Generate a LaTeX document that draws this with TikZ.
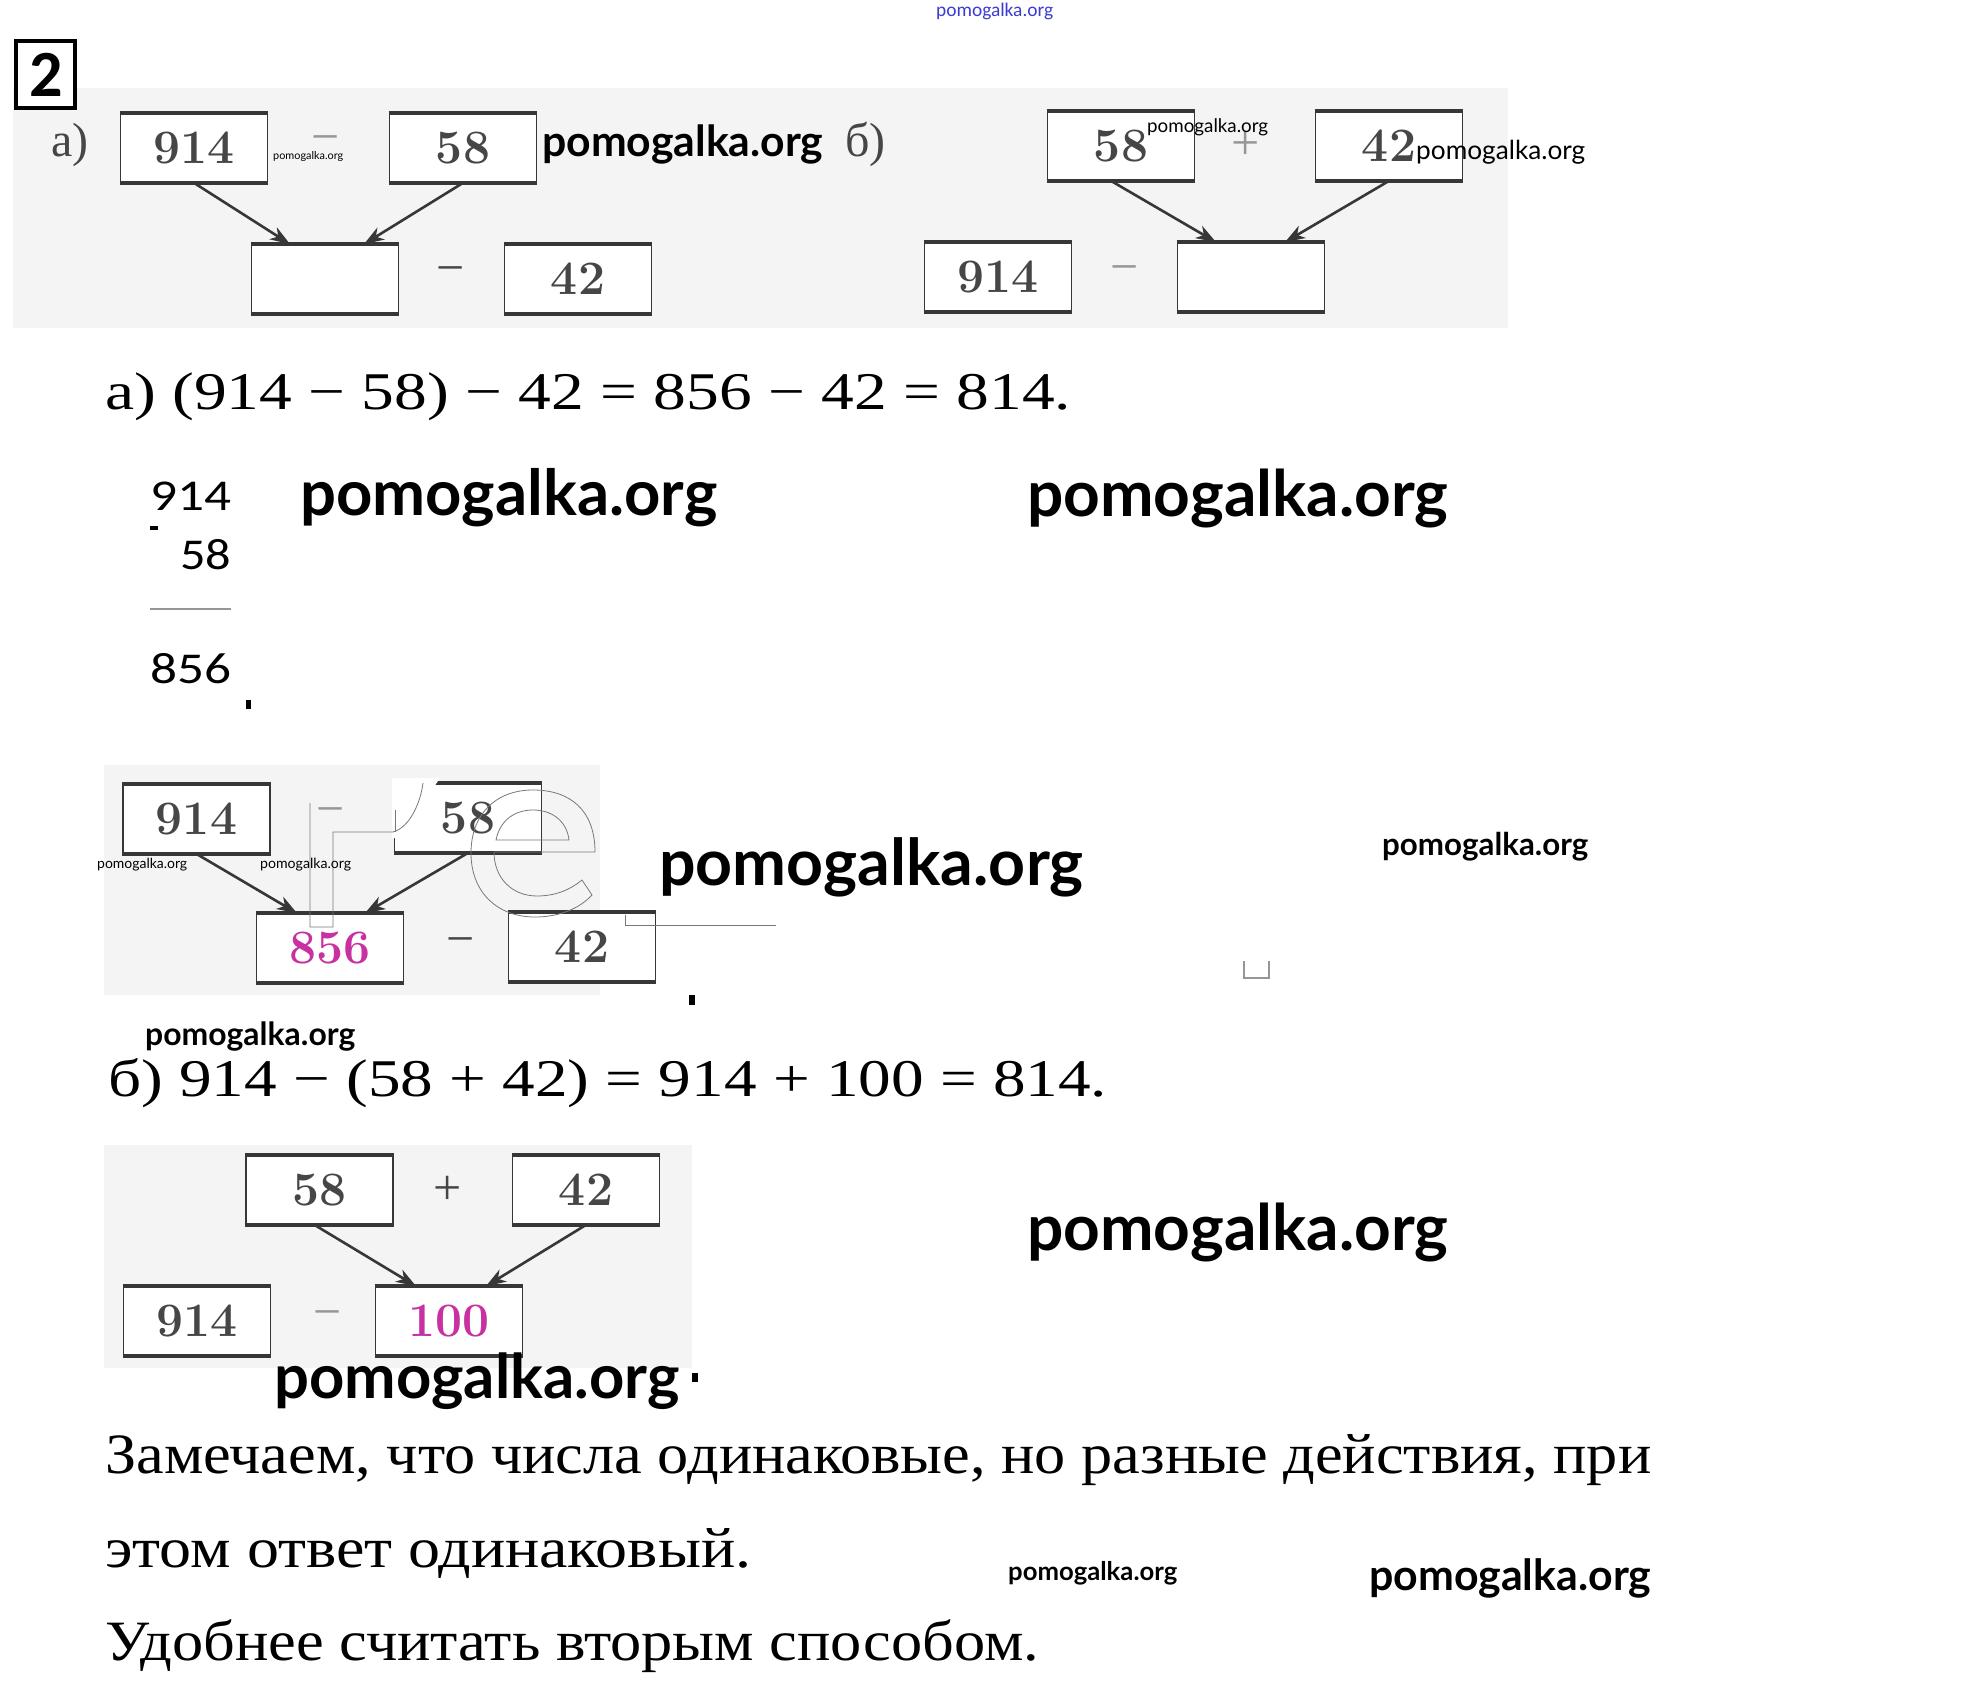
\documentclass[tikz,border=0pt]{standalone}
\usepackage{fontspec}
\usepackage{graphicx}
\usetikzlibrary{arrows.meta}
\newfontfamily\txtf{Liberation Serif}
\newfontfamily\wmf{Lato}
\newfontfamily\clb{Carlito}
\newfontfamily\boxf{Latin Modern Roman}
\definecolor{bgc}{RGB}{244,244,244}
\definecolor{boxc}{RGB}{55,55,55}
\definecolor{numc}{RGB}{70,70,70}
\definecolor{mag}{RGB}{200,50,160}
\definecolor{lgray}{RGB}{150,150,150}
\definecolor{blu}{RGB}{60,60,210}
\definecolor{logoc}{RGB}{120,120,120}
\newcommand\fitx[2]{\resizebox{#1}{\height}{#2}}
\newcommand\fitu[2]{\resizebox{#1}{!}{#2}}
\newcommand\tbedges[1]{\draw[tedge] (#1.north west)--(#1.north east); \draw[tedge] (#1.south west)--(#1.south east);}
\begin{document}
\begin{tikzpicture}[x=1pt,y=-1pt,
 tb/.style={draw=boxc,fill=white,line width=1.8pt,minimum width=147pt,minimum height=68pt,inner sep=0pt,font=\boxf\bfseries\fontsize{48}{48}\selectfont,text=numc},
 tedge/.style={draw=boxc,line width=4pt},
 arr/.style={draw=boxc,line width=2.6pt,-{Stealth[length=20pt,width=14pt,inset=6pt]}},
 opf/.style={font=\txtf\fontsize{50}{50}\selectfont,text=numc,inner sep=0pt},
 txt/.style={anchor=base west,inner sep=0pt},
 logo/.style={draw=logoc,line width=0.8pt}
]
\useasboundingbox (0,0) rectangle (1987,1699);
\fill[white] (0,0) rectangle (1987,1699);

% ---------- top
\fill[bgc] (13,88) rectangle (1508,328);
\node[txt] (wt) at (936,17) {\fitu{117pt}{\clb\color{blu}pomogalka.org}};
\node[draw=black,fill=white,line width=3.5pt,minimum width=59pt,minimum height=67pt,inner sep=0pt] (num) at (45.5,74.5) {};
\node[txt,font=\clb\bfseries\fontsize{66}{66}\selectfont] (numt) at (29,97) {2};

\node[txt,font=\txtf\fontsize{48}{48}\selectfont,text=numc] (la) at (51,157) {а)};
\node[txt,font=\txtf\fontsize{48}{48}\selectfont,text=numc] (lb) at (845,157) {б)};

% a)
\node[tb] (A1) at (194,148) {914};
\node[tb] (A2) at (463,148) {58};
\node[tb] (B1) at (325,279) {};
\node[tb] (B2) at (578,279) {42};
\tbedges{A1}\tbedges{A2}\tbedges{B1}\tbedges{B2}
\node[opf,text=lgray] (am1) at (326,145) {−};
\node[opf] (am2) at (451,276) {−};
\draw[arr] (A1.south) -- ([xshift=-35pt]B1.north);
\draw[arr] (A2.south) -- ([xshift=39pt]B1.north);
\node[txt] (w1) at (273,160) {\fitu{70pt}{\wmf pomogalka.org}};
\node[txt] (w2) at (542,157) {\fitu{281pt}{\wmf\bfseries pomogalka.org}};

% b)
\node[tb] (C1) at (1121,146) {58};
\node[tb] (C2) at (1389,146) {42};
\node[tb] (D1) at (998,277) {914};
\node[tb] (D2) at (1251,277) {};
\tbedges{C1}\tbedges{C2}\tbedges{D1}\tbedges{D2}
\node[opf,text=lgray] (bp) at (1246,145) {+};
\node[opf,text=lgray] (bm) at (1125,275) {−};
\draw[arr] ([xshift=-10pt]C1.south) -- ([xshift=-35pt]D2.north);
\draw[arr] (C2.south) -- ([xshift=34pt]D2.north);
\node[txt] (w3) at (1147,133) {\fitu{121pt}{\wmf pomogalka.org}};
\node[txt] (w4) at (1416,160) {\fitu{169pt}{\wmf pomogalka.org}};

% ---------- formula a
\node[txt] (fa) at (105,409) {\fitx{966pt}{\txtf\fontsize{53}{53}\selectfont а) (914 − 58) − 42 = 856 − 42 = 814.}};

% column
\node[txt] (c1) at (150,510) {\fitx{81pt}{\clb\fontsize{44}{44}\selectfont 914}};
\fill (150,526) rectangle (158,530);
\node[txt] (c2) at (180,569) {\fitx{51pt}{\clb\fontsize{44}{44}\selectfont 58}};
\draw[lgray,line width=2pt] (150,609) -- (231,609);
\node[txt] (c3) at (150,683) {\fitx{81pt}{\clb\fontsize{44}{44}\selectfont 856}};
\fill (246,700) rectangle (251,709);
\node[txt] (w5) at (300,515) {\fitu{417pt}{\wmf\bfseries pomogalka.org}};
\node[txt] (w6) at (1027,516) {\fitu{421pt}{\wmf\bfseries pomogalka.org}};

% ---------- middle diagram
\fill[bgc] (104,765) rectangle (600,995);
\node[tb] (E1) at (196.5,819) {914};
\node[tb] (E2) at (468,818) {58};
\node[tb,text=mag] (F1) at (330,948) {856};
\node[tb] (F2) at (582,947) {42};
\tbedges{E1}\tbedges{E2}\tbedges{F1}\tbedges{F2}
\node[opf,text=lgray] (em1) at (331,817) {−};
\node[opf] (em2) at (461,947) {−};
\draw[arr] (E1.south) -- ([xshift=-33pt]F1.north);
\draw[arr] (E2.south) -- ([xshift=35pt]F1.north);
% logo "re"
\fill[white] (392,778) -- (440,778) .. controls (425,800) and (410,825) .. (396,838) -- (392,838) -- cycle;
\draw[logo] (310,803) -- (310,927) -- (333,927) -- (333,832) -- (393,832) .. controls (411,827) and (421,800) .. (423,783);
\draw[logo] (395,810) -- (395,832);
\draw[logo] (595,852) .. controls (595,810) and (570,790) .. (533,790) .. controls (495,790) and (471,815) .. (471,853) .. controls (471,892) and (497,917) .. (535,917) .. controls (560,917) and (580,908) .. (592,895) -- (582,880) .. controls (570,890) and (555,896) .. (537,896) .. controls (512,896) and (494,878) .. (494,852) -- cycle;
\draw[logo] (496,840) .. controls (500,820) and (515,810) .. (533,810) .. controls (553,810) and (567,822) .. (569,840) -- cycle;
\draw[logo] (625,915) -- (625,925) -- (776,925);
\node[txt] (w7) at (97,868) {\fitu{90pt}{\wmf pomogalka.org}};
\node[txt] (w8) at (260,868) {\fitu{91pt}{\wmf pomogalka.org}};
\node[txt] (w9) at (659,885) {\fitu{424pt}{\wmf\bfseries pomogalka.org}};
\fill (689,995) rectangle (695,1005);
\node[txt] (w10) at (1382,855) {\fitu{206pt}{\wmf\bfseries pomogalka.org}};
\draw[lgray,line width=1.5pt] (1244,961) -- (1244,978) -- (1269,978) -- (1269,961);

% ---------- formula b
\node[txt] (w11) at (145,1045) {\fitu{210pt}{\wmf\bfseries pomogalka.org}};
\node[txt] (fb) at (108,1096) {\fitx{999pt}{\txtf\fontsize{53}{53}\selectfont б) 914 − (58 + 42) = 914 + 100 = 814.}};

% ---------- bottom diagram
\fill[bgc] (104,1145) rectangle (692,1368);
\node[tb] (G1) at (319.5,1190) {58};
\node[tb] (G2) at (586,1190) {42};
\node[tb] (H1) at (197,1321) {914};
\node[tb,text=mag] (H2) at (449,1321) {100};
\tbedges{G1}\tbedges{G2}\tbedges{H1}\tbedges{H2}
\node[opf] (gp) at (448,1190) {+};
\node[opf,text=lgray] (hm) at (328,1320) {−};
\draw[arr] ([xshift=-5pt]G1.south) -- ([xshift=-33pt]H2.north);
\draw[arr] (G2.south) -- ([xshift=37pt]H2.north);
\node[txt] (w12) at (1027,1250) {\fitu{421pt}{\wmf\bfseries pomogalka.org}};
\node[txt] (w13) at (274,1398) {\fitu{405pt}{\wmf\bfseries pomogalka.org}};
\fill (692,1373) rectangle (698,1382);

% ---------- text
\node[txt] (t1) at (105,1473) {\fitx{1546pt}{\txtf\fontsize{57}{57}\selectfont Замечаем, что числа одинаковые, но разные действия, при}};
\node[txt] (t2) at (105,1567) {\fitx{646pt}{\txtf\fontsize{57}{57}\selectfont этом ответ одинаковый.}};
\node[txt] (t3) at (105,1660) {\fitx{934pt}{\txtf\fontsize{57}{57}\selectfont Удобнее считать вторым способом.}};
\node[txt] (w14) at (1008,1580) {\fitu{169pt}{\wmf\bfseries pomogalka.org}};
\node[txt] (w15) at (1369,1590) {\fitu{282pt}{\wmf\bfseries pomogalka.org}};
\end{tikzpicture}
\end{document}
